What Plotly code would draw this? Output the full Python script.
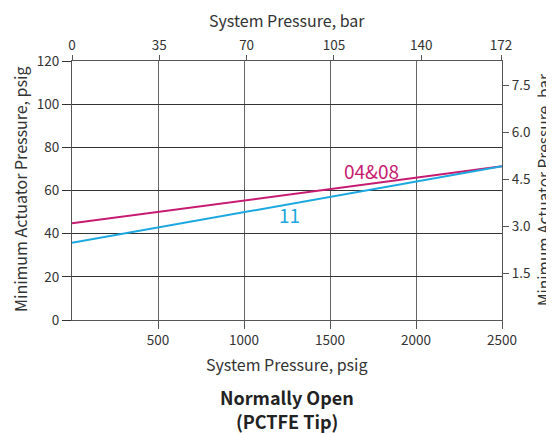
import plotly.graph_objects as go

# Data
system_psig = [0, 2500]
series_0408 = [44.8, 71.2]
series_11 = [35.8, 71.2]
series_names = ["04&08", "11"]
PSI_PER_BAR = 14.5038

bottom_ticks = [500, 1000, 1500, 2000, 2500]
left_ticks = [0, 20, 40, 60, 80, 100, 120]
top_ticks = [0, 35, 70, 105, 140, 172]
right_ticks = [1.5, 3.0, 4.5, 6.0, 7.5]

FONT = "Noto Sans CJK SC"
TXT = "#333333"
MAG = "#C71B72"
BLU = "#1BA8E0"

# page has 8px body margin -> figure origin at (8, 8)
OFF = 8
W, H = 554 - OFF, 434 - OFF
PL, PR, PT, PB = 72, 502, 61, 320  # plot area in page pixels
L = PL - OFF
R = W - (PR - OFF)
T = PT - OFF
B = H - (PB - OFF)
pw = PR - PL
ph = PB - PT

def px_x(p):
    return (p - PL) / pw

def px_y(p):
    return (PB - p) / ph

fig = go.Figure()
fig.add_trace(go.Scatter(x=system_psig, y=series_0408, mode="lines",
                         line=dict(color=MAG, width=2), name=series_names[0],
                         showlegend=False, xaxis="x", yaxis="y"))
fig.add_trace(go.Scatter(x=system_psig, y=series_11, mode="lines",
                         line=dict(color=BLU, width=2), name=series_names[1],
                         showlegend=False, xaxis="x", yaxis="y"))
# invisible trace for secondary axes
fig.add_trace(go.Scatter(x=[0, 2500 / PSI_PER_BAR], y=[0, 120 / PSI_PER_BAR],
                         mode="markers", marker=dict(opacity=0),
                         showlegend=False, hoverinfo="skip",
                         xaxis="x2", yaxis="y2"))

tickfont = dict(family=FONT, size=13.5, color=TXT)

fig.update_layout(
    width=W, height=H,
    margin=dict(l=L, r=R, t=T, b=B, pad=0),
    paper_bgcolor="white", plot_bgcolor="white",
    font=dict(family=FONT, color=TXT),
    xaxis=dict(range=[0, 2500], tickvals=bottom_ticks,
               ticktext=[str(v) for v in bottom_ticks],
               ticks="outside", ticklen=8, tickcolor="#555", tickwidth=1,
               showgrid=True, gridcolor="#666", gridwidth=1,
               showline=True, linecolor="#555", linewidth=1, mirror=True,
               zeroline=False, tickfont=tickfont),
    yaxis=dict(range=[0, 120], tickvals=left_ticks,
               ticks="outside", ticklen=9, tickcolor="#333", tickwidth=1,
               showgrid=True, gridcolor="#333", gridwidth=1,
               showline=True, linecolor="#555", linewidth=1, mirror=True,
               zeroline=False, tickfont=tickfont),
    xaxis2=dict(range=[0, 2500 / PSI_PER_BAR], overlaying="x", side="top",
                tickvals=top_ticks, ticks="outside", ticklen=5,
                tickcolor="#555", showgrid=False, showline=False,
                zeroline=False, tickfont=tickfont),
    yaxis2=dict(range=[0, 120 / PSI_PER_BAR], overlaying="y", side="right",
                tickvals=right_ticks, ticktext=[f"{v:.1f}" for v in right_ticks],
                ticks="outside", ticklen=6, tickcolor="#555",
                showgrid=False, showline=False, zeroline=False,
                tickfont=tickfont),
)

ann = [
    dict(text="System Pressure, bar", x=px_x(287), y=px_y(20), size=16, angle=0, bold=False),
    dict(text="System Pressure, psig", x=px_x(287), y=px_y(364), size=16, angle=0, bold=False),
    dict(text="Minimum Actuator Pressure, psig", x=px_x(20), y=px_y(190), size=16, angle=-90, bold=False),
    dict(text="Minimum Actuator Pressure, bar", x=px_x(543), y=px_y(190), size=15.5, angle=-90, bold=False),
    dict(text="<b>Normally Open</b>", x=px_x(287), y=px_y(397), size=18, angle=0, bold=True),
    dict(text="<b>(PCTFE Tip)</b>", x=px_x(287), y=px_y(421), size=18, angle=0, bold=True),
]
for a in ann:
    fig.add_annotation(text=a["text"], x=a["x"], y=a["y"], xref="paper", yref="paper",
                       xanchor="center", yanchor="middle", showarrow=False,
                       textangle=a["angle"],
                       font=dict(family=FONT, size=a["size"], color="#222" if a["bold"] else TXT))

fig.add_annotation(text=series_names[0], x=1744, y=69.5, xref="x", yref="y",
                   showarrow=False, font=dict(family=FONT, size=19, color=MAG))
fig.add_annotation(text=series_names[1], x=1267, y=48.8, xref="x", yref="y",
                   showarrow=False, font=dict(family=FONT, size=19, color=BLU))

fig.write_html("out.html")
